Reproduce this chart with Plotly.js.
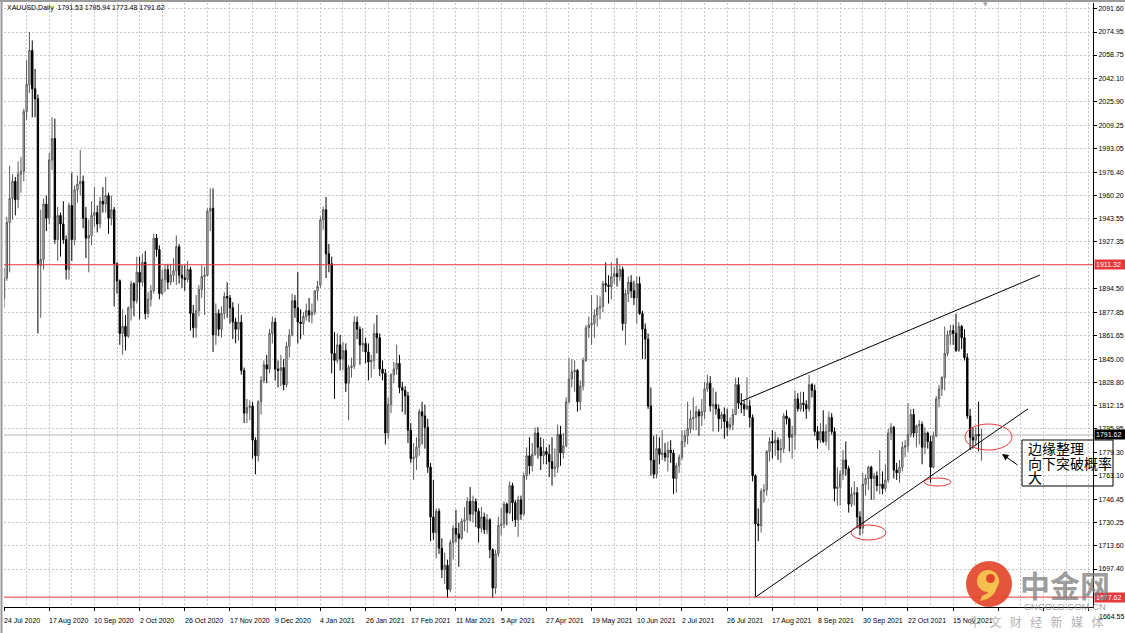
<!DOCTYPE html>
<html><head><meta charset="utf-8">
<script src="https://cdn.plot.ly/plotly-3.0.1.min.js"></script>
<style>html,body{margin:0;padding:0;background:#fff;}#chart{width:1125px;height:633px;}</style>
</head><body><div id="chart"></div>
<script>
const symbol = 'XAUUSD,Daily';
const open = [
1888,
1902,1941,1958,1970,1957,
1975,1977,2019,2038,2062,
2035,2028,1911,1915,1954,
1944,1985,2000,1929,1946,
1940,1929,1908,1953,1929,
1964,1968,1970,1944,
1930,1932,1946,1948,
1940,1956,1954,1960,1944,
1950,1912,1900,1863,1868,
1861,1881,1898,1886,1906,
1899,1913,1877,1887,1893,
1930,1922,1891,1901,1908,
1899,1904,1907,1924,1904,
1902,1901,1908,1877,1867,
1879,1894,1903,1904,1949,
1951,1862,1877,1866,1877,
1889,1888,1881,1871,1866,
1871,1837,1807,1811,1812,
1788,1777,1815,1830,1841,
1838,1863,1871,1838,1837,
1839,1827,1854,1862,1886,
1881,1871,1870,1875,
1879,1876,1878,1893,
1897,1943,1950,1919,1912,
1849,1844,1855,1845,1851,
1828,1839,1840,1871,1866,
1855,1856,1850,1843,1844,
1863,1860,1838,1835,1793,
1813,1834,1838,1842,1825,
1823,1819,1795,1775,1776,
1783,1808,1805,1797,1769,
1734,1723,1738,1712,1697,
1700,1683,1716,1726,1722,
1719,1731,1732,1745,1736,
1745,1738,1726,1734,1725,
1732,1711,1684,1708,
1728,1729,1743,1737,1756,
1744,1732,1746,1736,1763,
1777,1770,1778,1793,1783,
1777,1780,1778,1773,1768,
1769,1792,1779,1784,1815,
1831,1836,1837,1815,1826,
1844,1867,1869,1870,1876,
1881,1882,1898,1897,1896,
1903,1905,1903,1908,1870,
1891,1899,1893,1888,1898,
1877,1866,1859,1812,1774,
1764,1782,1778,1779,1776,
1781,1779,1761,1770,1776,
1787,1791,1796,1803,1804,
1808,1805,1808,1824,1828,
1812,1813,1810,1803,1806,
1801,1797,1799,1806,1827,
1814,1813,1810,1812,1804,
1763,1729,1728,1752,1753,
1780,1787,1786,1788,1781,
1782,1805,1803,1790,1792,
1817,1810,1814,1813,1810,
1827,1823,1794,1788,1794,
1787,1794,1804,1794,1754,
1755,1764,1774,1768,1743,
1750,1751,1734,1726,1757,
1761,1769,1761,1763,1756,
1757,1754,1760,1793,1797,
1767,1765,1769,1783,1784,
1792,1806,1793,1798,1799,
1783,1793,1787,1769,1791,
1817,1824,1832,1849,1862,
1865,1863,1851,1868,1860,
1846,1805,1790,1788,1792,
1791.53
];
const high = [
1909,
1945,1981,1975,1973,1984,
1987,2021,2055,2075,2069,
2049,2031,1950,1958,1960,
1990,2015,2014,1952,1948,
1956,1932,1955,1976,1967,
1974,1992,1974,1952,
1943,1956,1966,1953,
1959,1966,1973,1962,1960,
1952,1913,1901,1880,1876,
1882,1900,1899,1917,1917,
1919,1921,1892,1897,1933,
1933,1925,1908,1912,1912,
1912,1916,1932,1926,1911,
1911,1914,1910,1883,1890,
1897,1911,1910,1951,1965,
1965,1884,1880,1882,1892,
1899,1890,1885,1874,1884,
1876,1839,1817,1816,1815,
1790,1816,1833,1844,1848,
1866,1875,1874,1844,1848,
1845,1857,1866,1891,1890,
1906,1880,1878,1884,
1888,1884,1893,1900,
1945,1952,1959,1926,1917,
1864,1863,1862,1857,1856,
1841,1846,1875,1875,1868,
1867,1860,1856,1848,1870,
1876,1863,1844,1838,1818,
1835,1843,1855,1848,1829,
1826,1822,1800,1786,1790,
1810,1815,1813,1803,1772,
1760,1740,1740,1719,1709,
1704,1718,1728,1739,1730,
1733,1741,1748,1755,1749,
1747,1740,1741,1737,1736,
1733,1712,1711,1734,
1740,1745,1744,1759,1758,
1746,1749,1749,1765,1783,
1790,1786,1797,1797,1790,
1789,1783,1785,1790,1782,
1799,1798,1793,1818,1846,
1845,1844,1838,1830,1846,
1869,1875,1890,1880,1890,
1889,1900,1913,1904,1913,
1910,1916,1911,1910,1894,
1903,1904,1900,1903,1903,
1879,1870,1863,1825,1791,
1792,1790,1795,1786,1787,
1788,1781,1772,1778,1795,
1795,1815,1809,1818,1812,
1810,1817,1829,1834,1833,
1825,1822,1813,1808,1811,
1810,1804,1810,1832,1832,
1821,1816,1832,1816,1806,
1764,1740,1754,1757,1781,
1790,1795,1794,1790,1789,
1807,1809,1804,1798,1823,
1821,1822,1822,1816,1834,
1828,1827,1798,1800,1809,
1799,1808,1807,1797,1769,
1767,1781,1787,1770,1755,
1759,1755,1738,1765,1764,
1770,1770,1765,1766,1781,
1766,1771,1796,1800,1798,
1772,1774,1787,1788,1814,
1810,1810,1799,1802,1801,
1797,1794,1791,1794,1819,
1827,1833,1868,1865,1869,
1869,1877,1871,1869,1866,
1849,1810,1797,1797,1815,
1795.94
];
const low = [
1881,
1900,1906,1943,1946,1951,
1962,1970,2013,2032,2015,
2015,1863,1874,1908,1935,
1940,1978,1926,1914,1917,
1926,1901,1901,1914,1925,
1955,1960,1937,1916,
1906,1925,1938,1934,
1937,1948,1948,1933,1939,
1882,1891,1855,1848,1851,
1860,1872,1875,1884,1873,
1896,1873,1874,1882,1891,
1917,1887,1890,1892,1894,
1897,1899,1897,1898,1895,
1893,1899,1865,1860,1860,
1875,1888,1876,1903,1935,
1850,1855,1861,1860,1873,
1874,1870,1859,1856,1858,
1834,1800,1800,1802,1775,
1764,1773,1806,1828,1828,
1835,1856,1830,1825,1826,
1823,1825,1846,1861,1874,
1856,1859,1862,1872,
1871,1870,1876,1886,
1895,1936,1902,1906,1835,
1817,1842,1837,1837,1822,
1802,1832,1838,1859,1841,
1850,1842,1830,1832,1838,
1849,1833,1830,1785,1789,
1807,1828,1834,1821,1808,
1806,1786,1772,1760,1767,
1777,1785,1782,1765,1717,
1718,1705,1708,1691,1687,
1677,1681,1704,1716,1699,
1718,1724,1723,1731,1730,
1727,1716,1723,1722,1722,
1705,1677,1680,1706,
1721,1726,1728,1736,1731,
1727,1720,1732,1735,1760,
1764,1766,1777,1775,1767,
1771,1771,1762,1756,1762,
1765,1770,1775,1783,1814,
1825,1822,1808,1809,1823,
1843,1860,1855,1860,1868,
1873,1878,1892,1884,1887,
1898,1896,1900,1865,1855,
1885,1888,1883,1870,1876,
1845,1845,1810,1763,1761,
1761,1771,1774,1773,1766,
1772,1750,1751,1765,1774,
1783,1785,1793,1795,1795,
1791,1798,1803,1822,1808,
1794,1806,1794,1796,1789,
1791,1795,1795,1806,1810,
1807,1805,1809,1797,1759,
1677.62,1717,1723,1744,1749,
1773,1775,1777,1774,1772,
1779,1799,1780,1775,1781,
1808,1808,1808,1803,1808,
1818,1791,1782,1786,1786,
1784,1781,1792,1745,1742,
1742,1760,1763,1737,1741,
1742,1726,1721,1722,1749,
1753,1746,1746,1752,1750,
1750,1752,1758,1788,1761,
1760,1758,1766,1776,1780,
1790,1790,1783,1785,1771,
1778,1782,1758,1768,1790,
1811,1819,1823,1847,1855,
1855,1850,1850,1852,1844,
1803,1781,1782,1784,1780,
1773.48
];
const close = [
1902,
1941,1958,1970,1957,1975,
1977,2019,2038,2062,2035,
2028,1911,1915,1954,1944,
1985,2000,1929,1946,1940,
1929,1908,1953,1929,1964,
1968,1970,1944,1930,
1932,1946,1948,1940,
1956,1954,1960,1944,1950,
1912,1900,1863,1868,1861,
1881,1898,1886,1906,1899,
1913,1877,1887,1893,1930,
1922,1891,1901,1908,1899,
1904,1907,1924,1904,1902,
1901,1908,1877,1867,1879,
1894,1903,1904,1949,1951,
1862,1877,1866,1877,1889,
1888,1881,1871,1866,1871,
1837,1807,1811,1812,1788,
1777,1815,1830,1841,1838,
1863,1871,1838,1837,1839,
1827,1854,1862,1886,1881,
1871,1870,1875,1879,
1876,1878,1893,1896,
1943,1950,1919,1912,1849,
1844,1855,1845,1851,1828,
1839,1840,1871,1866,1855,
1856,1850,1843,1844,1863,
1860,1838,1835,1793,1813,
1834,1838,1842,1825,1823,
1819,1795,1775,1776,1783,
1808,1805,1797,1769,1734,
1723,1738,1712,1697,1700,
1683,1716,1726,1722,1719,
1731,1732,1745,1736,1745,
1738,1726,1734,1725,1732,
1711,1684,1708,1728,
1729,1743,1737,1756,1744,
1732,1746,1736,1763,1777,
1770,1778,1793,1783,1777,
1780,1778,1773,1768,1769,
1792,1779,1784,1815,1831,
1836,1837,1815,1826,1844,
1867,1869,1870,1876,1881,
1882,1898,1897,1896,1903,
1905,1903,1908,1870,1891,
1899,1893,1888,1898,1877,
1866,1859,1812,1774,1764,
1782,1778,1779,1776,1781,
1779,1761,1770,1776,1787,
1791,1796,1803,1804,1808,
1805,1808,1824,1828,1812,
1813,1810,1803,1806,1801,
1797,1799,1806,1827,1814,
1813,1810,1812,1804,1763,
1729,1728,1752,1753,1780,
1787,1786,1788,1781,1782,
1805,1803,1790,1792,1817,
1810,1814,1813,1810,1827,
1823,1794,1788,1794,1787,
1794,1804,1794,1754,1755,
1764,1774,1768,1743,1750,
1751,1734,1726,1757,1761,
1769,1761,1763,1756,1757,
1754,1760,1793,1797,1767,
1765,1769,1783,1784,1792,
1806,1793,1798,1799,1783,
1793,1787,1769,1791,1817,
1824,1832,1849,1862,1865,
1863,1851,1868,1860,1846,
1805,1790,1788,1792,1791,
1791.62
];
const dateLabels = ['24 Jul 2020','17 Aug 2020','10 Sep 2020','2 Oct 2020','26 Oct 2020','17 Nov 2020','9 Dec 2020','4 Jan 2021','26 Jan 2021','17 Feb 2021','11 Mar 2021','5 Apr 2021','27 Apr 2021','19 May 2021','10 Jun 2021','2 Jul 2021','26 Jul 2021','17 Aug 2021','8 Sep 2021','30 Sep 2021','22 Oct 2021','15 Nov 2021'];
const labelEvery = 16;
const priceTicks = [2091.60,2074.95,2058.75,2042.10,2025.90,2009.25,1993.05,1976.40,1960.20,1943.55,1927.35,1894.50,1877.85,1861.65,1845.00,1828.80,1812.15,1795.95,1779.30,1763.10,1746.45,1730.25,1713.60,1697.40];
const bottomTick = 1664.55;
const levelLines = [1911.32, 1677.62];
const currentPrice = 1791.62;
const noteLines = ['边缘整理','向下突破概率','大'];
const upperTrendX = [261.2, 366.7], upperTrendY = [1815.5, 1904.1];
const lowerTrendX = [266, 362.5], lowerTrendY = [1677.62, 1810];

// ---- layout geometry (pixels) ----
const W = 1125, H = 633, L = 4, R = 32, T = 3, B = 26;
const PW = W - L - R, PH = H - T - B;
const PX = px => (px - L) / PW;
const PY = py => (H - B - py) / PH;
const FONT = 'Liberation Sans, Arial, sans-serif';
const FS = 7;
const RED = '#e8383a';
const GRID = '#c6c6c6';

const idx = open.map((_, i) => i);
const n = open.length;

const trace = {
  type: 'candlestick', x: idx, open: open, high: high, low: low, close: close,
  increasing: {line: {color: '#5a5a5a', width: 1}, fillcolor: '#d2d2d2'},
  decreasing: {line: {color: '#000000', width: 1}, fillcolor: '#000000'},
  whiskerwidth: 0, hoverinfo: 'skip', showlegend: false
};

const shapes = [];
levelLines.forEach(v => shapes.push({type: 'line', xref: 'paper', x0: 0, x1: 1, yref: 'y', y0: v, y1: v, line: {color: RED, width: 1}, layer: 'above'}));
shapes.push({type: 'line', xref: 'paper', x0: 0, x1: 1, yref: 'y', y0: currentPrice, y1: currentPrice, line: {color: '#b4b4b4', width: 1}, layer: 'below'});
shapes.push({type: 'line', xref: 'x', yref: 'y', x0: upperTrendX[0], x1: upperTrendX[1], y0: upperTrendY[0], y1: upperTrendY[1], line: {color: '#000', width: 1}});
shapes.push({type: 'line', xref: 'x', yref: 'y', x0: lowerTrendX[0], x1: lowerTrendX[1], y0: lowerTrendY[0], y1: lowerTrendY[1], line: {color: '#000', width: 1}});
// red ellipses
[[851, 525, 886, 540], [924, 478, 951, 486], [965, 424, 1012, 450]].forEach(e => shapes.push({
  type: 'circle', xref: 'paper', yref: 'paper', x0: PX(e[0]), x1: PX(e[2]), y0: PY(e[3]), y1: PY(e[1]),
  line: {color: RED, width: 1}, fillcolor: 'rgba(0,0,0,0)'}));
// note box
shapes.push({type: 'rect', xref: 'paper', yref: 'paper', x0: PX(1022), x1: PX(1113), y0: PY(486), y1: PY(440), line: {color: '#000', width: 1}, fillcolor: 'rgba(0,0,0,0)'});
// frame
shapes.push({type: 'line', xref: 'paper', yref: 'paper', x0: PX(1.5), x1: PX(1.5), y0: PY(633), y1: PY(0), line: {color: '#9a9a9a', width: 2}});
shapes.push({type: 'line', xref: 'paper', yref: 'paper', x0: PX(0), x1: PX(1125), y0: PY(1), y1: PY(1), line: {color: '#9a9a9a', width: 2}});
// watermark logo
shapes.push({type: 'circle', xref: 'paper', yref: 'paper', x0: PX(966), x1: PX(1012), y0: PY(607), y1: PY(561), fillcolor: 'rgba(226,70,42,0.92)', line: {width: 0}});
shapes.push({type: 'circle', xref: 'paper', yref: 'paper', x0: PX(977), x1: PX(999), y0: PY(592), y1: PY(570), fillcolor: 'rgba(246,197,78,0.95)', line: {width: 0}});
shapes.push({type: 'circle', xref: 'paper', yref: 'paper', x0: PX(986), x1: PX(995), y0: PY(583), y1: PY(574), fillcolor: 'rgba(226,70,42,1)', line: {width: 0}});
shapes.push({type: 'path', xref: 'paper', yref: 'paper',
  path: `M ${PX(997)} ${PY(585)} Q ${PX(996)} ${PY(598)} ${PX(980)} ${PY(601)} L ${PX(982)} ${PY(596)} Q ${PX(991)} ${PY(593)} ${PX(990)} ${PY(586)} Z`,
  fillcolor: 'rgba(246,197,78,0.95)', line: {width: 0}});

const ann = [];
const last = n - 1;
ann.push({xref: 'paper', yref: 'paper', x: PX(5), y: PY(8), xanchor: 'left', yanchor: 'middle', showarrow: false,
  text: symbol + '\u00a0 ' + [open[last], high[last], low[last], close[last]].map(v => v.toFixed(2)).join(' '),
  font: {family: FONT, size: FS, color: '#000'}});
dateLabels.forEach((t, k) => ann.push({xref: 'x', yref: 'paper', x: k * labelEvery, y: 0, xanchor: 'left', yanchor: 'top',
  xshift: -2, yshift: -8, text: t, showarrow: false, font: {family: FONT, size: FS, color: '#000'}}));
levelLines.forEach(v => ann.push({xref: 'paper', yref: 'y', x: 1, y: v, xanchor: 'left', yanchor: 'middle', xshift: 1,
  text: v.toFixed(2), showarrow: false, bgcolor: RED, borderpad: 1, width: 28, align: 'left', font: {family: FONT, size: FS, color: '#fff'}}));
ann.push({xref: 'paper', yref: 'y', x: 1, y: currentPrice, xanchor: 'left', yanchor: 'middle', xshift: 1,
  text: currentPrice.toFixed(2), showarrow: false, bgcolor: '#000', borderpad: 1, width: 28, align: 'left', font: {family: FONT, size: FS, color: '#fff'}});
ann.push({xref: 'paper', yref: 'paper', x: 1, y: PY(616), xanchor: 'left', yanchor: 'middle', xshift: 4,
  text: bottomTick.toFixed(2), showarrow: false, font: {family: FONT, size: FS, color: '#000'}});
// note text
[447.5, 462.5, 477].forEach((py, k) => ann.push({xref: 'paper', yref: 'paper', x: PX(1026), y: PY(py), xanchor: 'left', yanchor: 'middle',
  text: noteLines[k], showarrow: false, font: {family: 'Noto Sans CJK SC', size: 14, color: '#000'}}));
// arrow
ann.push({xref: 'paper', yref: 'paper', x: PX(1002), y: PY(454), ax: 17, ay: 12, text: '', showarrow: true,
  arrowhead: 2, arrowsize: 1.3, arrowwidth: 1, arrowcolor: '#000'});
// watermark text
ann.push({xref: 'paper', yref: 'paper', x: PX(1065), y: PY(584), xanchor: 'center', yanchor: 'middle', showarrow: false,
  text: '<b>中金网</b>', font: {family: 'Noto Sans CJK SC', size: 30, color: 'rgba(120,120,120,0.72)'}});
ann.push({xref: 'paper', yref: 'paper', x: PX(1065), y: PY(606), xanchor: 'center', yanchor: 'middle', showarrow: false,
  text: 'CNGOLD.COM.CN', font: {family: 'Liberation Sans, Arial', size: 9.5, color: 'rgba(140,140,140,0.8)'}});
ann.push({xref: 'paper', yref: 'paper', x: PX(1036), y: PY(621), xanchor: 'center', yanchor: 'middle', showarrow: false,
  text: ['中','文','财','经','新','媒','体'].join('\u2002\u2009'), font: {family: 'Noto Sans CJK SC', size: 12, color: 'rgba(150,150,150,0.75)'}});
ann.push({xref: 'paper', yref: 'paper', x: PX(985), y: PY(4), xanchor: 'center', yanchor: 'middle', showarrow: false,
  text: '▼', font: {family: 'DejaVu Sans', size: 6, color: '#a8a8a8'}});

const layout = {
  width: W, height: H, margin: {l: L, r: R, t: T, b: B, pad: 0},
  paper_bgcolor: '#ffffff', plot_bgcolor: '#ffffff', showlegend: false, hovermode: false, dragmode: false,
  xaxis: {range: [0, 385.5], tickmode: 'linear', tick0: 0, dtick: labelEvery, showticklabels: false,
    ticks: 'outside', ticklen: 3, tickcolor: '#000', showgrid: true, gridcolor: GRID, griddash: '2px,2px', gridwidth: 1,
    minor: {tickmode: 'linear', tick0: 0, dtick: labelEvery / 2, showgrid: true, gridcolor: GRID, griddash: '2px,2px', ticks: ''},
    showline: true, linecolor: '#000', linewidth: 1, zeroline: false, rangeslider: {visible: false}, fixedrange: true, automargin: false},
  yaxis: {side: 'right', range: [1670.68, 2095.34], tickmode: 'array', tickvals: priceTicks, ticktext: priceTicks.map(v => v.toFixed(2)),
    ticks: 'outside', ticklen: 3, tickcolor: '#000', tickfont: {family: FONT, size: FS, color: '#000'},
    showgrid: true, gridcolor: GRID, griddash: '2px,2px', gridwidth: 1,
    showline: true, linecolor: '#000', linewidth: 1, zeroline: false, fixedrange: true, automargin: false},
  shapes: shapes, annotations: ann
};

Plotly.newPlot('chart', [trace], layout, {staticPlot: true, displayModeBar: false});
</script></body></html>
